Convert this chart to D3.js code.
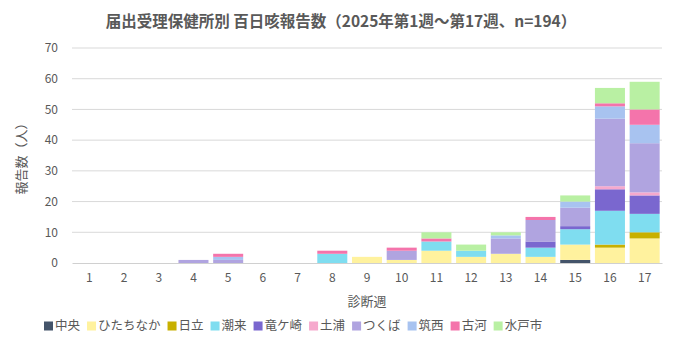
<!DOCTYPE html>
<html>
<head>
<meta charset="utf-8">
<script src="https://cdn.jsdelivr.net/npm/d3@7/dist/d3.min.js"></script>
<style>
  html, body { margin: 0; padding: 0; background: #fff; }
  svg { display: block; font-family: "Noto Sans CJK JP", "Noto Sans", sans-serif; }
</style>
</head>
<body>
<svg id="chart" width="680" height="340"></svg>
<script>
// 診断週 (week numbers)
const weeks = ["1","2","3","4","5","6","7","8","9","10","11","12","13","14","15","16","17"];

// 保健所 (health centres) in stacking order, bottom to top
const centres = ["中央","ひたちなか","日立","潮来","竜ケ崎","土浦","つくば","筑西","古河","水戸市"];
const colours = ["#44546A","#FFF29E","#C8B000","#7FDDF0","#7A67CF","#F6A9CD","#B0A4E0","#A8C3F0","#F474AB","#B9F0A3"];

// reported cases per week for each centre
const chuo       = [0,0,0,0,0,0,0,0,0,0,0,0,0,0,1,0,0];
const hitachinaka= [0,0,0,0,0,0,0,0,2,1,4,2,3,2,5,5,8];
const hitachi    = [0,0,0,0,0,0,0,0,0,0,0,0,0,0,0,1,2];
const itako      = [0,0,0,0,0,0,0,3,0,0,3,2,0,3,5,11,6];
const ryugasaki  = [0,0,0,0,0,0,0,0,0,0,0,0,0,2,1,7,6];
const tsuchiura  = [0,0,0,0,0,0,0,0,0,0,0,0,0,0,0,1,1];
const tsukuba    = [0,0,0,1,1,0,0,0,0,3,0,0,5,7,6,22,16];
const chikusei   = [0,0,0,0,1,0,0,0,0,0,0,0,1,0,2,4,6];
const koga       = [0,0,0,0,1,0,0,1,0,1,1,0,0,1,0,1,5];
const mito       = [0,0,0,0,0,0,0,0,0,0,2,2,1,0,2,5,9];

const yTicks = [0,10,20,30,40,50,60,70];

const seriesValues = [chuo, hitachinaka, hitachi, itako, ryugasaki, tsuchiura, tsukuba, chikusei, koga, mito];

const rows = weeks.map((w, i) => {
  const r = { week: w };
  centres.forEach((c, k) => { r[c] = seriesValues[k][i]; });
  return r;
});

const svg = d3.select("#chart");
const margin = { left: 72, right: 18, top: 48, bottom: 77 };
const W = 680, H = 340;

const x = d3.scaleBand().domain(weeks).range([margin.left, W - margin.right]).paddingInner(0.135).paddingOuter(0.0675);
const y = d3.scaleLinear().domain([0, 70]).range([H - margin.bottom, margin.top]);

const textCol = "#595959";

// gridlines
svg.append("g")
  .selectAll("line")
  .data(yTicks.filter(t => t > 0))
  .join("line")
  .attr("x1", margin.left).attr("x2", W - margin.right)
  .attr("y1", d => y(d)).attr("y2", d => y(d))
  .attr("stroke", "#d9d9d9").attr("stroke-width", 1);

// stacked bars
const stack = d3.stack().keys(centres);
const layers = stack(rows);

svg.append("g")
  .selectAll("g")
  .data(layers)
  .join("g")
  .attr("fill", (d, i) => colours[i])
  .selectAll("rect")
  .data(d => d)
  .join("rect")
  .attr("x", d => x(d.data.week))
  .attr("width", x.bandwidth())
  .attr("y", d => y(d[1]))
  .attr("height", d => y(d[0]) - y(d[1]));

// y axis labels
const yAxis = d3.axisLeft(y).tickValues(yTicks).tickSize(0).tickPadding(14);
const gy = svg.append("g").attr("transform", `translate(${margin.left},0)`).call(yAxis);
gy.select(".domain").remove();
gy.selectAll("text").attr("fill", textCol).attr("font-size", 12).attr("font-family", "\"Noto Sans CJK JP\", sans-serif");

// x axis
const xAxis = d3.axisBottom(x).tickSize(0).tickPadding(10);
const gx = svg.append("g").attr("transform", `translate(0,${y(0)})`).call(xAxis);
gx.select(".domain").attr("stroke", "#d0d0d0");
gx.selectAll("text").attr("fill", textCol).attr("font-size", 12).attr("font-family", "\"Noto Sans CJK JP\", sans-serif");

// title
svg.append("text")
  .attr("x", 341).attr("y", 27)
  .attr("text-anchor", "middle")
  .attr("font-size", 15.5).attr("font-weight", "bold")
  .attr("fill", textCol)
  .text("届出受理保健所別 百日咳報告数（2025年第1週～第17週、n=194）");

// axis titles
svg.append("text")
  .attr("transform", `translate(26,${(y(0) + y(70)) / 2}) rotate(-90)`)
  .attr("text-anchor", "middle")
  .attr("font-size", 13).attr("fill", textCol)
  .text("報告数（人）");

svg.append("text")
  .attr("x", (margin.left + W - margin.right) / 2).attr("y", 306)
  .attr("text-anchor", "middle")
  .attr("font-size", 13).attr("fill", textCol)
  .text("診断週");

// legend
const legend = svg.append("g").attr("transform", "translate(44,326)");
let lx = 0;
centres.forEach((c, i) => {
  const g = legend.append("g").attr("transform", `translate(${lx},0)`);
  g.append("rect").attr("x", 0).attr("y", -4.5).attr("width", 9).attr("height", 9).attr("fill", colours[i]);
  const t = g.append("text").attr("x", 11).attr("y", 0).attr("dy", "0.35em")
    .attr("font-size", 12.5).attr("fill", textCol).text(c);
  lx += 11 + t.node().getComputedTextLength() + 7;
});
</script>
</body>
</html>
